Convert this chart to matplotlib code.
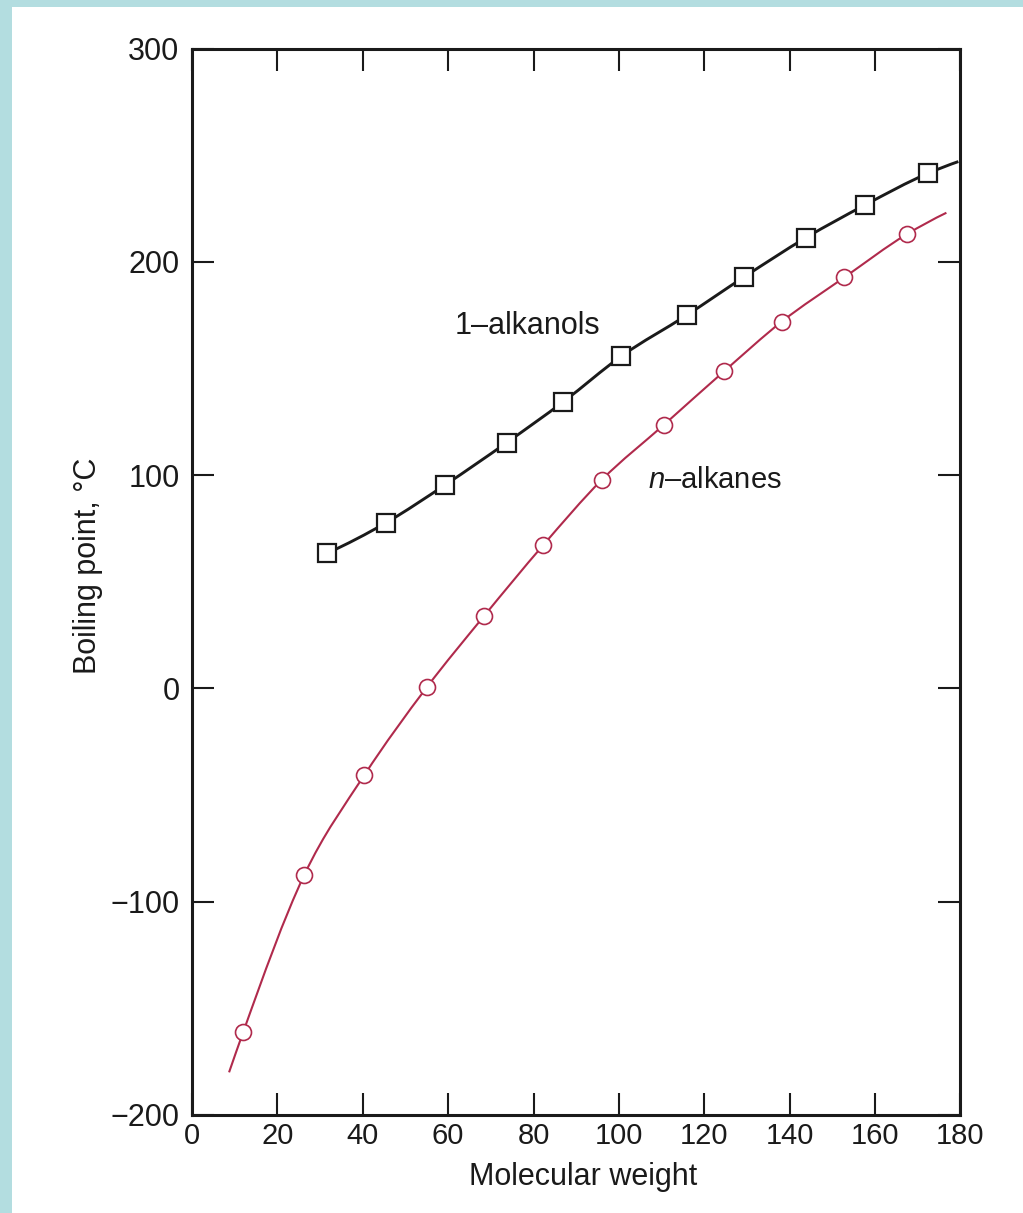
import matplotlib
matplotlib.use("Agg")
import matplotlib.pyplot as plt
from matplotlib.path import Path
from matplotlib.patches import PathPatch, Rectangle
import numpy as np

# values
alkanol_mw = [31.6, 45.5, 59.3, 73.7, 87.0, 100.6, 115.9, 129.4, 143.8, 157.6, 172.4]
alkanol_bp = [63.3, 77.7, 95.4, 115.2, 134.4, 155.8, 175.0, 193.0, 211.3, 226.6, 241.5]
alkanol_end = (179.5, 247.0)

alkane_mw = [12.0, 26.3, 40.4, 55.0, 68.4, 82.2, 96.0, 110.5, 124.7, 138.1, 152.8, 167.4]
alkane_bp = [-161.2, -87.5, -40.6, 0.5, 33.9, 67.0, 97.8, 123.5, 148.8, 171.9, 192.7, 212.9]
alkane_start = (8.7, -180.0)
alkane_end = (176.7, 223.0)

x_ticks = [0, 20, 40, 60, 80, 100, 120, 140, 160, 180]
y_ticks = [-200, -100, 0, 100, 200, 300]

red = '#b02a4c'
ink = '#1a1a1a'
teal = '#b3dde0'

plt.rcParams['font.family'] = ['Liberation Sans', 'DejaVu Sans']
plt.rcParams['mathtext.fontset'] = 'custom'
plt.rcParams['mathtext.it'] = 'Liberation Sans:italic'
plt.rcParams['mathtext.rm'] = 'Liberation Sans'


def smooth_path(xs, ys):
    # cubic hermite through the points (x increasing), as bezier segments
    x = np.asarray(xs, float)
    y = np.asarray(ys, float)
    h = np.diff(x)
    d = np.diff(y) / h
    m = np.empty_like(y)
    m[1:-1] = (d[:-1] * h[1:] + d[1:] * h[:-1]) / (h[:-1] + h[1:])
    m[0] = d[0] + (d[0] - d[1]) * h[0] / (h[0] + h[1])
    m[-1] = d[-1] + (d[-1] - d[-2]) * h[-1] / (h[-1] + h[-2])
    verts = [(x[0], y[0])]
    codes = [Path.MOVETO]
    for i in range(len(x) - 1):
        verts += [(x[i] + h[i] / 3, y[i] + m[i] * h[i] / 3),
                  (x[i + 1] - h[i] / 3, y[i + 1] - m[i + 1] * h[i] / 3),
                  (x[i + 1], y[i + 1])]
        codes += [Path.CURVE4] * 3
    return Path(verts, codes)


fig = plt.figure(figsize=(10.23, 12.13), dpi=100)
fig.patch.set_facecolor(teal)
bg = Rectangle((12 / 1023, 0), 1, 1 - 7 / 1213, transform=fig.transFigure,
               facecolor='white', edgecolor='none', zorder=-10)
fig.add_artist(bg)

ax = fig.add_axes([0.1876, 0.0808, 0.7513, 0.8792])
ax.set_facecolor('none')

line_x = list(alkanol_mw) + [alkanol_end[0]]
line_y = list(alkanol_bp) + [alkanol_end[1]]
ax.add_patch(PathPatch(smooth_path(line_x, line_y), fill=False, edgecolor=ink,
                       linewidth=2.1, zorder=2))

line_x = [alkane_start[0]] + list(alkane_mw) + [alkane_end[0]]
line_y = [alkane_start[1]] + list(alkane_bp) + [alkane_end[1]]
ax.add_patch(PathPatch(smooth_path(line_x, line_y), fill=False, edgecolor=red,
                       linewidth=1.5, zorder=2))

ax.plot(alkanol_mw, alkanol_bp, linestyle='none', marker='s', markersize=12.5,
        markerfacecolor='white', markeredgecolor=ink, markeredgewidth=1.6, zorder=3)
ax.plot(alkane_mw, alkane_bp, linestyle='none', marker='o', markersize=11.5,
        markerfacecolor='white', markeredgecolor=red, markeredgewidth=1.2, zorder=3)

fig.text(527 / 1023, 1 - 326 / 1213, '1\u2013alkanols', fontsize=22, ha='center',
         va='center', color=ink)
fig.text(715 / 1023, 1 - 480 / 1213, '$\\mathit{n}$\u2013alkanes', fontsize=21,
         ha='center', va='center', color=ink)

ax.set_xlim(0, 180)
ax.set_ylim(-200, 300)
ax.set_xticks(x_ticks)
ax.set_yticks(y_ticks)
ax.tick_params(axis='both', direction='in', top=True, right=True, length=16, width=1.5,
               color=ink, labelcolor=ink)
ax.tick_params(axis='x', labelsize=21, pad=5)
ax.tick_params(axis='y', labelsize=22, pad=9)
for s in ax.spines.values():
    s.set_linewidth(2.2)
    s.set_color(ink)

ax.set_xlabel('Molecular weight', fontsize=22, color=ink)
ax.set_ylabel('Boiling point, \u00b0C', fontsize=22, color=ink)
ax.xaxis.label.set_verticalalignment('center')
ax.yaxis.label.set_verticalalignment('center')
ax.xaxis.set_label_coords(0.509, -0.058)
ax.yaxis.set_label_coords(-0.135, 0.515)

fig.savefig('out.png', dpi=100, facecolor=fig.get_facecolor())
